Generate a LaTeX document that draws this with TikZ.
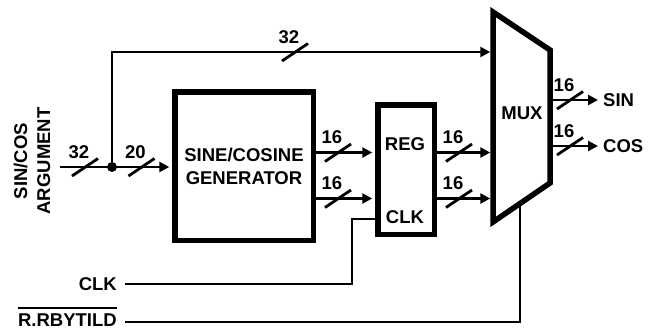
\documentclass[tikz,border=0pt]{standalone}
\usepackage{fontspec}
\setmainfont{Liberation Sans}
\usetikzlibrary{positioning, arrows.meta}

\begin{document}
\begin{tikzpicture}[
        x=1pt, y=-1pt,
        font=\fontsize{18.5}{23}\selectfont\bfseries,
        >={Triangle[length=10pt,width=10pt]},
        wire/.style={line width=2.8pt},
        inwire/.style={wire, ->, shorten >=2.75pt},
        block/.style={rectangle, draw, line width=5.5pt, align=center, inner sep=0pt},
        lbl/.style={inner sep=0pt, align=center},
        junction/.style={circle, fill, inner sep=0pt, minimum size=10pt},
        pics/bus/.style={code={
            \draw[wire] (-13,9) -- (13,-8.5);
            \node[lbl] (-num) at (-6,-15) {#1};
          }},
      ]
        \useasboundingbox (0,0) rectangle (654,330);

        % blocks
        \node[block, minimum width=138.5pt, minimum height=148.5pt] (gen) at (244,166) {SINE/COSINE\\GENERATOR};
        \node[block, minimum width=56.5pt, minimum height=129.5pt] (reg) at (406,169.5) {};
        \node[lbl] (reglbl) at (405,144) {REG};
        \node[lbl] (regclk) at (405,217) {CLK};

        % mux outline
        \coordinate (mux-tl) at (493,12);
        \coordinate (mux-tr) at (550,50);
        \coordinate (mux-br) at (550,183);
        \coordinate (mux-bl) at (493,222);
        \coordinate (mux-sel) at (520,203.5);
        \draw[line width=5.5pt] (mux-tl) -- (mux-tr) -- (mux-br) -- (mux-bl) -- cycle;
        \node[lbl] (muxlbl) at (522,113) {MUX};

        % labels
        \node[lbl, rotate=90] (arglbl) at (32,161) {SIN/COS\\ARGUMENT};
        \node[lbl, anchor=east] (clkin) at (117,284) {CLK};
        \node[lbl, anchor=east] (rst) at (117,320.5) {R.RBYTILD};
        \draw[wire] ([yshift=6pt]rst.north west) -- ([yshift=6pt]rst.north east);
        \node[lbl, anchor=west] (sinlbl) at (603,100) {SIN};
        \node[lbl, anchor=west] (coslbl) at (603,146) {COS};

        % rows
        \coordinate (argin) at (60,167);
        \coordinate (toprow) at (0,52);
        \coordinate (sinrow) at (0,152.5);
        \coordinate (cosrow) at (0,198.5);
        \coordinate (clkrow) at (0,219);
        \coordinate (rstrow) at (0,322);
        \coordinate (clkbend) at (352,0);
        \node[junction] (split) at (112,167) {};

        % connectors
        \draw[inwire] (argin) -- (gen.west |- argin);
        \draw[inwire] (split) |- (mux-tl |- toprow);
        \draw[inwire] (gen.east |- sinrow) -- (reg.west |- sinrow);
        \draw[inwire] (gen.east |- cosrow) -- (reg.west |- cosrow);
        \draw[inwire] (reg.east |- sinrow) -- (mux-tl |- sinrow);
        \draw[inwire] (reg.east |- cosrow) -- (mux-tl |- cosrow);
        \draw[wire, ->, shorten >=5pt] (mux-tr |- sinlbl) -- (sinlbl.west);
        \draw[wire, ->, shorten >=5pt] (mux-tr |- coslbl) -- (coslbl.west);
        \draw[wire] ([xshift=8pt]clkin.east) -| (clkbend |- clkrow) -- (reg.west |- clkrow);
        \draw[wire] ([xshift=8pt]rst.east |- rstrow) -| (mux-sel);

        % bus widths
        \pic (b-arg) at (85,167) {bus=32};
        \pic (b-in) at (141.5,167) {bus=20};
        \pic (b-top) at (295,52) {bus=32};
        \pic (b-gs) at (338,152.5) {bus=16};
        \pic (b-gc) at (338,198.5) {bus=16};
        \pic (b-rs) at (459,152.5) {bus=16};
        \pic (b-rc) at (459,198.5) {bus=16};
        \pic (b-ms) at (570,100) {bus=16};
        \pic (b-mc) at (570,146) {bus=16};
      \end{tikzpicture}
\end{document}
